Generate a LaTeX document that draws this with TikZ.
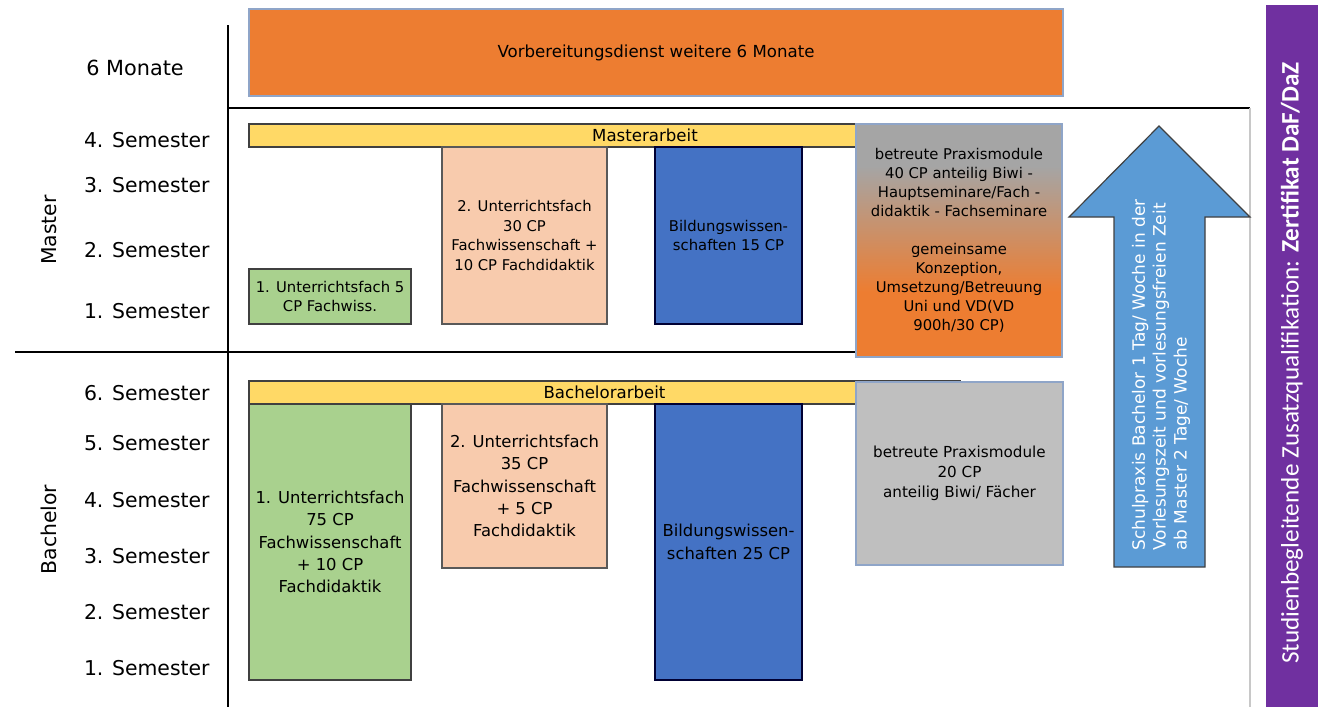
\documentclass[tikz,border=0pt]{standalone}
\usepackage{fontspec}
\setmainfont{DejaVu Sans}
\newfontfamily\zqfont{Carlito}
\usetikzlibrary{shadings}
\definecolor{vdorange}{HTML}{ED7D31}
\definecolor{thesisyellow}{HTML}{FFD966}
\definecolor{fachgreen}{HTML}{A9D18E}
\definecolor{fachpeach}{HTML}{F8CBAD}
\definecolor{biwiblue}{HTML}{4472C4}
\definecolor{praxisgray}{HTML}{A5A5A5}
\definecolor{bapraxisgray}{HTML}{BFBFBF}
\definecolor{arrowblue}{HTML}{5B9BD5}
\definecolor{zqpurple}{HTML}{7030A0}
\definecolor{boxline}{HTML}{404040}
\definecolor{softblue}{HTML}{8FA5C8}
\definecolor{gridgray}{HTML}{C8C8C8}
\pgfdeclareverticalshading{praxisshade}{100bp}{color(0bp)=(vdorange); color(39bp)=(vdorange); color(66bp)=(praxisgray); color(100bp)=(praxisgray)}

\begin{document}
\begin{tikzpicture}[x=0.5pt, y=-0.5pt,
	semlabel/.style={anchor=east, inner sep=0pt, font=\fontsize{10.2}{12}\selectfont},
	phaselabel/.style={rotate=90, inner sep=0pt, font=\fontsize{10.2}{12}\selectfont},
	modbox/.style={draw=boxline, line width=0.6pt, inner sep=0pt, align=center, font=\fontsize{7.4}{9.8}\selectfont},
	bamodbox/.style={modbox, font=\fontsize{8.2}{11.2}\selectfont},
	thesisbar/.style={modbox, fill=thesisyellow, minimum height=11.5pt, font=\fontsize{8.3}{10}\selectfont}]
	\useasboundingbox (0,0) rectangle (1318,707);
	% Grid lines:
	\draw[line width=0.6pt] (228,25) -- (228,707);
	\draw[line width=0.6pt] (228,108) -- (1250,108);
	\draw[line width=0.6pt] (15,352) -- (960,352);
	\draw[gridgray, line width=0.6pt] (1250,108) -- (1250,707);
	% Row labels:
	\node[anchor=west, inner sep=0pt, font=\fontsize{10.4}{12}\selectfont] (monate) at (86,67.5){6 Monate};
	\node[semlabel] (msem4) at (210,140.5){4. Semester};
	\node[semlabel] (msem3) at (210,185.5){3. Semester};
	\node[semlabel] (msem2) at (210,250.5){2. Semester};
	\node[semlabel] (msem1) at (210,311.5){1. Semester};
	\node[semlabel] (bsem6) at (210,393.5){6. Semester};
	\node[semlabel] (bsem5) at (210,443.5){5. Semester};
	\node[semlabel] (bsem4) at (210,500.5){4. Semester};
	\node[semlabel] (bsem3) at (210,556){3. Semester};
	\node[semlabel] (bsem2) at (210,612.5){2. Semester};
	\node[semlabel] (bsem1) at (210,668.5){1. Semester};
	\node[phaselabel] (master) at (49,230){Master};
	\node[phaselabel] (bachelor) at (48.5,529.5){Bachelor};
	% Vorbereitungsdienst:
	\node[modbox, draw=softblue, fill=vdorange, minimum width=407pt, minimum height=43.5pt, font=\fontsize{8.3}{10}\selectfont] (vd) at (656,52.5){Vorbereitungsdienst weitere 6 Monate};
	% Master:
	\node[thesisbar, minimum width=396pt] (mthesis) at (645,135.5){Masterarbeit};
	\node[modbox, fill=fachgreen, minimum width=81pt, minimum height=27.5pt] (mfach1) at (330,296.5){1. Unterrichtsfach 5\\CP Fachwiss.};
	\node[modbox, draw=gray!70!black, fill=fachpeach, minimum width=82.5pt, minimum height=88.5pt] (mfach2) at (524.5,235.5){2. Unterrichtsfach\\30 CP\\Fachwissenschaft +\\10 CP Fachdidaktik};
	\node[modbox, draw=black!80!blue, fill=biwiblue, minimum width=73.5pt, minimum height=88.5pt] (mbiwi) at (728.5,235.5){Bildungswissen-\\schaften 15 CP};
	\node[modbox, draw=softblue, shade, shading=praxisshade, minimum width=103pt, minimum height=116.5pt, font=\fontsize{7.4}{9.5}\selectfont] (mpraxis) at (959,240.5){betreute Praxismodule\\40 CP anteilig Biwi -\\Hauptseminare/Fach -\\didaktik - Fachseminare\\[9.5pt]gemeinsame\\Konzeption,\\Umsetzung/Betreuung\\Uni und VD(VD\\900h/30 CP)};
	% Bachelor:
	\node[thesisbar, minimum width=355.5pt] (bthesis) at (604.5,392.5){Bachelorarbeit};
	\node[bamodbox, fill=fachgreen, minimum width=81pt, minimum height=138pt] (bfach1) at (330,542){1. Unterrichtsfach\\75 CP\\Fachwissenschaft\\+ 10 CP\\Fachdidaktik};
	\node[bamodbox, draw=gray!70!black, fill=fachpeach, minimum width=82.5pt, minimum height=82pt] (bfach2) at (524.5,486){2. Unterrichtsfach\\35 CP\\Fachwissenschaft\\+ 5 CP\\Fachdidaktik};
	\node[bamodbox, draw=black!80!blue, fill=biwiblue, minimum width=73.5pt, minimum height=138pt] (bbiwi) at (728.5,542){Bildungswissen-\\schaften 25 CP};
	\node[modbox, draw=softblue, fill=bapraxisgray, minimum width=103.5pt, minimum height=91.5pt, font=\fontsize{7.6}{10}\selectfont] (bpraxis) at (959.5,473.5){betreute Praxismodule\\20 CP\\anteilig Biwi/ Fächer};
	% Schulpraxis arrow:
	\draw[draw=boxline, line width=0.6pt, fill=arrowblue] (1114,567) -- (1205,567) -- (1205,217) -- (1250,217) -- (1159,126) -- (1069,217) -- (1114,217) -- cycle;
	\node[rotate=90, align=left, text=white, inner sep=0pt, font=\fontsize{8.5}{10.4}\selectfont] (schulpraxis) at (1161,375){Schulpraxis Bachelor 1 Tag/ Woche in der\\Vorlesungszeit und vorlesungsfreien Zeit\\ab Master 2 Tage/ Woche};
	% Zusatzqualifikation:
	\node[fill=zqpurple, inner sep=0pt, minimum width=26pt, minimum height=351pt] (zqbar) at (1292,356){};
	\node[rotate=90, text=white, inner sep=0pt, font=\zqfont\fontsize{12.6}{14}\selectfont] (zqtext) at (1292,363){Studienbegleitende Zusatzqualifikation: \textbf{Zertifikat DaF/DaZ}};
\end{tikzpicture}
\end{document}
